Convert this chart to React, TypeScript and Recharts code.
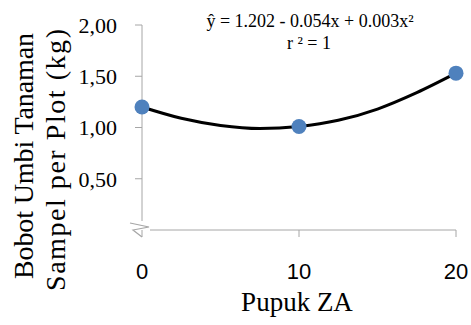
import React from 'react'
import {
  ComposedChart,
  Line,
  Scatter,
  XAxis,
  YAxis,
  usePlotArea,
} from 'recharts'

const dosis = [0, 10, 20]
const bobot = [1.2, 1.01, 1.53]

// trend curve
const trendX = [0, 2.5, 5, 7.5, 10, 12.5, 15, 17.5, 20]
const trendY = [1.2, 1.09, 1.02, 0.99, 1.01, 1.07, 1.18, 1.34, 1.53]

const xTicks = [0, 10, 20]
const yTicks = [0.5, 1, 1.5, 2]

const points = dosis.map((x, i) => ({ x, y: bobot[i] }))
const trend = trendX.map((x, i) => ({ x, y: trendY[i] }))

const serif = 'Liberation Serif, DejaVu Serif, serif'
const sans = 'Liberation Sans, Arial, sans-serif'
const axisGray = '#a6a6a6'

function Overlay() {
  const plot = usePlotArea()
  if (!plot) return null
  const left = plot.x
  const bottom = plot.y + plot.height
  const right = plot.x + plot.width
  return (
    <g>
      <line x1={left} y1={plot.y} x2={left} y2={bottom - 9} stroke={axisGray} strokeWidth={1} />
      <line x1={left + 8} y1={bottom} x2={right} y2={bottom} stroke={axisGray} strokeWidth={1} />
      <path
        d={`M${left - 12},${bottom - 7} L${left + 7},${bottom - 3} L${left - 9},${bottom} L${left},${bottom + 7}`}
        fill="none"
        stroke={axisGray}
        strokeWidth={1.2}
      />
      <text x={310} y={27} textAnchor="middle" fontFamily={serif} fontSize={18} fill="#000">
        ŷ = 1.202 - 0.054x  + 0.003x²
      </text>
      <text x={309} y={49} textAnchor="middle" fontFamily={serif} fontSize={18} fill="#000">
        r ² = 1
      </text>
      <text
        x={33}
        y={156}
        transform="rotate(-90, 33, 156)"
        textAnchor="middle"
        fontFamily={serif}
        fontSize={28}
        textLength={246}
        lengthAdjust="spacing"
        fill="#000"
      >
        Bobot Umbi Tanaman
      </text>
      <text
        x={65}
        y={160}
        transform="rotate(-90, 65, 160)"
        textAnchor="middle"
        fontFamily={serif}
        fontSize={28}
        textLength={262}
        lengthAdjust="spacing"
        fill="#000"
      >
        Sampel per Plot (kg)
      </text>
      <text x={297} y={311} textAnchor="middle" fontFamily={serif} fontSize={27} fill="#000">
        Pupuk ZA
      </text>
    </g>
  )
}

export default function App() {
  return (
    <div style={{ position: 'absolute', left: 0, top: 0, background: '#fff' }}>
      <ComposedChart
        width={471}
        height={325}
        data={trend}
        margin={{ top: 25, right: 15, bottom: 0, left: 0 }}
      >
        <XAxis
          type="number"
          dataKey="x"
          domain={[0, 20]}
          ticks={xTicks}
          axisLine={false}
          tickLine={{ stroke: axisGray }}
          tickSize={7}
          tickMargin={26}
          height={95}
          tick={{ fontFamily: sans, fontSize: 22, fill: '#000' }}
          interval={0}
        />
        <YAxis
          type="number"
          domain={[0, 2]}
          ticks={yTicks}
          axisLine={false}
          tickLine={{ stroke: axisGray }}
          tickSize={7}
          tickMargin={18}
          width={142}
          tick={{ fontFamily: serif, fontSize: 22, fill: '#000' }}
          tickFormatter={(v: number) => v.toFixed(2).replace('.', ',')}
          interval={0}
        />
        <Line
          type="monotone"
          dataKey="y"
          stroke="#000"
          strokeWidth={3}
          dot={false}
          isAnimationActive={false}
        />
        <Scatter
          data={points}
          dataKey="y"
          fill="#4f81bd"
          shape={(p: any) => <circle cx={p.cx} cy={p.cy} r={7.5} fill="#4f81bd" />}
          isAnimationActive={false}
        />
        <Overlay />
      </ComposedChart>
    </div>
  )
}
